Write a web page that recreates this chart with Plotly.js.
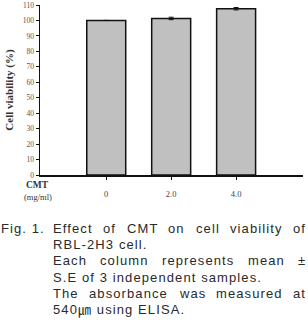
<!DOCTYPE html>
<html>
<head>
<meta charset="utf-8">
<script src="https://cdn.plot.ly/plotly-3.0.1.min.js"></script>
<style>
  html, body { margin: 0; padding: 0; background: #fff; }
  #chart { width: 308px; height: 332px; }
  /* wide tracking for the figure legend text (sans-serif annotations only) */
  text.annotation-text[style*="Liberation Sans"] { letter-spacing: 1.1px; }
</style>
</head>
<body>
<div id="chart"></div>
<script>
// CMT concentration groups (mg/ml) and cell viability (% of control)
const concentrations = ["0", "2.0", "4.0"];
const viability = [100.0, 101.3, 107.6];
const viabilitySE = [0, 0.8, 0.8];
const yTickValues = [0, 10, 20, 30, 40, 50, 60, 70, 80, 90, 100, 110];

// Figure legend, one entry per printed line
const captionLabel = "Fig. 1.";
const captionLines = [
  { text: "Effect of CMT on cell viability of", justify: true },
  { text: "RBL-2H3 cell.", justify: false },
  { text: "Each column represents mean \u00b1", justify: true },
  { text: "S.E of 3 independent samples.", justify: false },
  { text: "The absorbance was measured at", justify: true },
  { text: "540\u339b using ELISA.", justify: false }
];

const W = 308, H = 332;
const M = { l: 40, r: 5, t: 5, b: 157 };
const plotW = W - M.l - M.r, plotH = H - M.t - M.b;
const px2x = px => (px - M.l) / plotW;
const py2y = py => (H - M.b - py) / plotH;

const capFontFamily = "Liberation Sans, Noto Sans CJK KR, sans-serif";
const capFontSize = 13;
const capSpacing = 1.1;
const capColor = "#2a2a2a";
const ctx = document.createElement("canvas").getContext("2d");
ctx.font = capFontSize + "px Liberation Sans, Noto Sans CJK KR";
const textWidth = s => ctx.measureText(s).width + s.length * capSpacing;

const annotations = [];
const capText = (txt, px, py) => annotations.push({
  text: txt, xref: "paper", yref: "paper", x: px2x(px), y: py2y(py),
  xanchor: "left", yanchor: "middle", showarrow: false, borderpad: 0,
  font: { family: capFontFamily, size: capFontSize, color: capColor }
});

const lineStartPx = 52, lineEndPx = 305, firstLinePy = 228, lineStep = 16.4;
capText(captionLabel, 0, firstLinePy);
captionLines.forEach((ln, i) => {
  const py = firstLinePy + i * lineStep;
  if (!ln.justify) { capText(ln.text, lineStartPx, py); return; }
  const words = ln.text.split(" ");
  const widths = words.map(textWidth);
  const gap = (lineEndPx - lineStartPx - widths.reduce((a, b) => a + b, 0)) / (words.length - 1);
  let x = lineStartPx;
  words.forEach((w, k) => { capText(w, x, py); x += widths[k] + gap; });
});

// Axis caption for the category row
const serif = "Liberation Serif, Times New Roman, serif";
annotations.push({
  text: "<b>CMT</b>", xref: "paper", yref: "paper", x: px2x(37), y: py2y(185),
  xanchor: "center", yanchor: "middle", showarrow: false,
  font: { family: serif, size: 9.5, color: "#333" }
});
annotations.push({
  text: "(mg/ml)", xref: "paper", yref: "paper", x: px2x(38), y: py2y(197),
  xanchor: "center", yanchor: "middle", showarrow: false,
  font: { family: serif, size: 8.5, color: "#333" }
});

const trace = {
  type: "bar",
  x: concentrations,
  y: viability,
  width: 0.6,
  marker: { color: "#c0c0c0", line: { color: "#111", width: 1.5 } },
  error_y: { type: "data", array: viabilitySE, visible: true, color: "#111", thickness: 1, width: 2.5 },
  hoverinfo: "skip"
};

const layout = {
  width: W, height: H,
  margin: M,
  paper_bgcolor: "#fff", plot_bgcolor: "#fff",
  showlegend: false,
  xaxis: {
    type: "category",
    range: [-1.02, 3.03],
    showline: true, linecolor: "#111", linewidth: 1.5,
    ticks: "outside", ticklen: 3, tickcolor: "#111", tickwidth: 1,
    ticklabelstandoff: 7,
    tickfont: { family: serif, size: 8.5, color: "#444" },
    showgrid: false, zeroline: false, fixedrange: true
  },
  yaxis: {
    range: [0, 110],
    tickvals: yTickValues,
    ticktext: yTickValues.map(String),
    showline: true, linecolor: "#111", linewidth: 1.5,
    ticks: "outside", ticklen: 3, tickcolor: "#111", tickwidth: 1,
    tickfont: { family: serif, size: 7.5, color: "#555" },
    showgrid: false, zeroline: false, fixedrange: true,
    title: { text: "<b>Cell viability (%)</b>", standoff: 7,
             font: { family: serif, size: 11, color: "#333" } }
  },
  annotations: annotations
};

Plotly.newPlot("chart", [trace], layout, { displayModeBar: false, staticPlot: true });
</script>
</body>
</html>
